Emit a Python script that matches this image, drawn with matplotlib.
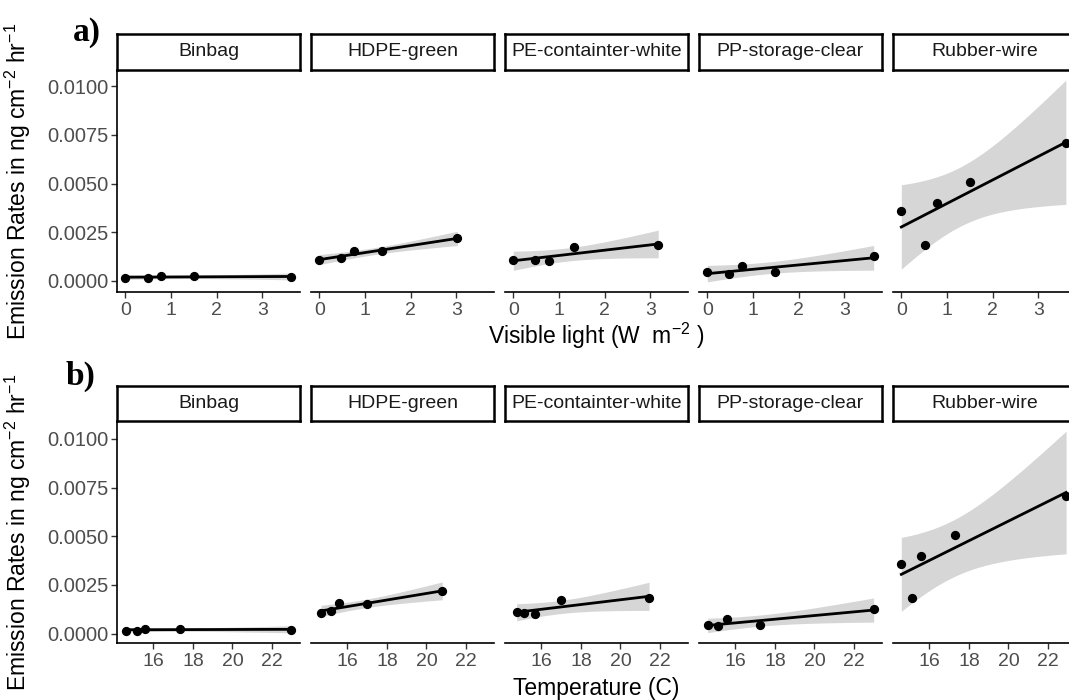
import numpy as np
import matplotlib.pyplot as plt

plt.rcParams['font.family'] = ['Liberation Sans', 'DejaVu Sans']
plt.rcParams['mathtext.fontset'] = 'custom'
plt.rcParams['mathtext.rm'] = 'Liberation Sans'
plt.rcParams['mathtext.it'] = 'Liberation Sans:italic'

# facet names
materials = ["Binbag", "HDPE-green", "PE-containter-white", "PP-storage-clear", "Rubber-wire"]

# emission rates (ng cm-2 hr-1), one value per sample
binbag_rate = [0.00015, 0.00016, 0.00026, 0.00026, 0.00020]
hdpe_rate = [0.00106, 0.00118, 0.00155, 0.00153, 0.00218]
pe_rate = [0.00110, 0.00106, 0.00103, 0.00172, 0.00183]
pp_rate = [0.00045, 0.00037, 0.00076, 0.00045, 0.00126]
rubber_rate = [0.00360, 0.00183, 0.00400, 0.00506, 0.00708]

# visible light (W m-2) for the same samples
binbag_light = [0.0, 0.50, 0.77, 1.50, 3.62]
hdpe_light = [0.0, 0.47, 0.75, 1.38, 3.02]
pe_light = [0.0, 0.48, 0.77, 1.33, 3.17]
pp_light = [0.0, 0.48, 0.76, 1.47, 3.64]
rubber_light = [0.0, 0.51, 0.78, 1.50, 3.60]

# temperature (C) for the same samples
binbag_temp = [14.60, 15.15, 15.60, 17.35, 22.97]
hdpe_temp = [14.67, 15.17, 15.60, 17.00, 20.80]
pe_temp = [14.75, 15.10, 15.70, 17.00, 21.45]
pp_temp = [14.60, 15.10, 15.60, 17.27, 23.00]
rubber_temp = [14.58, 15.12, 15.58, 17.30, 22.92]

rates = [binbag_rate, hdpe_rate, pe_rate, pp_rate, rubber_rate]
lights = [binbag_light, hdpe_light, pe_light, pp_light, rubber_light]
temps = [binbag_temp, hdpe_temp, pe_temp, pp_temp, rubber_temp]

y_ticks = [0.0, 0.0025, 0.005, 0.0075, 0.01]
light_ticks = [0, 1, 2, 3]
temp_ticks = [16, 18, 20, 22]

T95 = 3.182  # t quantile, 3 degrees of freedom


def lm_band(x, y, n=80):
    x = np.asarray(x)
    y = np.asarray(y)
    b, a = np.polyfit(x, y, 1)
    xs = np.linspace(x.min(), x.max(), n)
    fit = a + b * xs
    resid = y - (a + b * x)
    s = np.sqrt(np.sum(resid ** 2) / (len(x) - 2))
    sxx = np.sum((x - x.mean()) ** 2)
    se = s * np.sqrt(1 / len(x) + (xs - x.mean()) ** 2 / sxx)
    return xs, fit, fit - T95 * se, fit + T95 * se


W, H = 1069, 700
fig = plt.figure(figsize=(W / 100, H / 100), dpi=100)


def px_axes(left, top, width, height):
    return fig.add_axes([left / W, 1 - (top + height) / H, width / W, height / H])


def draw_row(xs_list, ticks, strip_top, panel_top, panel_bottom, xlabel, xlabel_y, tag, tag_xy):
    fits = [lm_band(x, y) for x, y in zip(xs_list, rates)]
    lo = min(min(f[2].min() for f in fits), min(min(r) for r in rates))
    hi = max(max(f[3].max() for f in fits), max(max(r) for r in rates))
    pad = 0.05 * (hi - lo)
    # x scale shared by all facets of a row
    xmin = min(min(x) for x in xs_list)
    xmax = max(max(x) for x in xs_list)
    xpad = 0.05 * (xmax - xmin)
    for i, name in enumerate(materials):
        left = 117 + i * 194
        wid = 183
        ax = px_axes(left, panel_top, wid, panel_bottom - panel_top)
        xs, fit, low, up = fits[i]
        ax.fill_between(xs, low, up, color='#999999', alpha=0.4, lw=0)
        ax.plot(xs, fit, color='black', lw=2.0)
        ax.scatter(xs_list[i], rates[i], s=32, color='black', zorder=3)
        ax.set_xlim(xmin - xpad, xmax + xpad)
        ax.set_ylim(lo - pad, hi + pad)
        ax.set_xticks(ticks)
        ax.set_xticklabels([str(t) for t in ticks])
        for sp in ['top', 'right']:
            ax.spines[sp].set_visible(False)
        ax.spines['bottom'].set_linewidth(1.2)
        ax.tick_params(axis='x', length=4, width=1.0, color='#333333',
                       labelsize=14, labelcolor='#4d4d4d', pad=3)
        if i == 0:
            ax.spines['left'].set_linewidth(1.2)
            ax.set_yticks(y_ticks)
            ax.set_yticklabels([f"{v:.4f}" for v in y_ticks])
            ax.tick_params(axis='y', length=4, width=1.0, color='#333333',
                           labelsize=14.5, labelcolor='#4d4d4d', pad=2)
        else:
            ax.spines['left'].set_visible(False)
            ax.set_yticks([])
        # strip
        sax = px_axes(left, strip_top, wid, panel_top - strip_top)
        sax.set_xticks([])
        sax.set_yticks([])
        for sp in sax.spines.values():
            sp.set_linewidth(1.8)
        sax.text(0.5, 0.5, name, ha='center', va='center', fontsize=14,
                 color='#1a1a1a', transform=sax.transAxes)
    fig.text(596 / W, 1 - xlabel_y / H, xlabel, ha='center', va='center', fontsize=16.5)
    fig.text(18 / W, 1 - (panel_top + panel_bottom) / 2 / H,
             r"Emission Rates in ng cm$^{-2}$ hr$^{-1}$",
             rotation=90, ha='center', va='center', fontsize=16.5)
    fig.text(tag_xy[0] / W, 1 - tag_xy[1] / H, tag, ha='center', va='center',
             fontsize=24, fontweight='bold', family='Liberation Serif')


draw_row(lights, light_ticks, 34, 70, 292, r"Visible light (W  m$^{-2}$ )", 336, "a)", (87, 32))
draw_row(temps, temp_ticks, 386, 421, 643, "Temperature (C)", 689, "b)", (80, 376))

fig.savefig("out.png", dpi=100)
